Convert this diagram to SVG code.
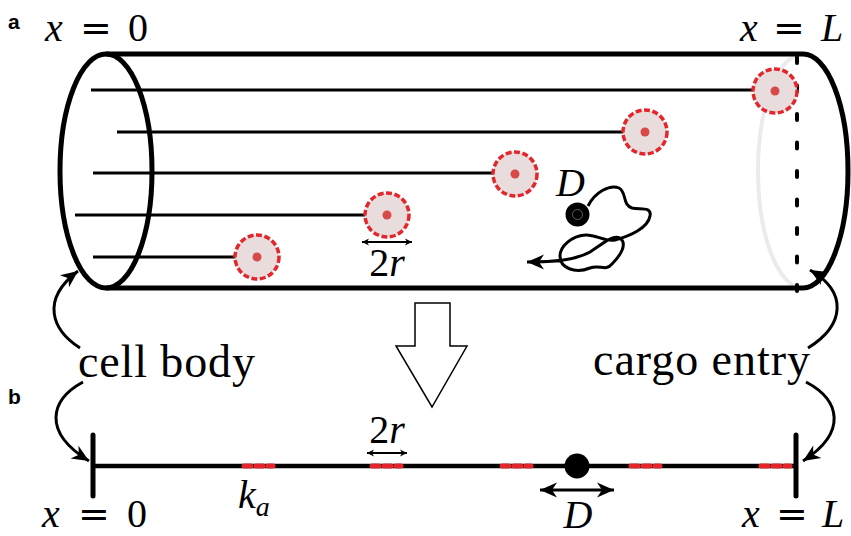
<svg xmlns="http://www.w3.org/2000/svg" width="851" height="536" viewBox="0 0 851 536">
  <style>
    .math { font-family: "Liberation Serif", "Times New Roman", Times, serif; font-size: 40px; fill: #000; }
    .it { font-style: italic; }
    .eq { font-family: "DejaVu Serif", serif; font-size: 38px; font-style: normal; }
    .word { font-family: "Liberation Serif", "Times New Roman", Times, serif; font-size: 46px; fill: #000; }
    .panel { font-family: "Liberation Sans", Arial, Helvetica, sans-serif; font-weight: bold; font-size: 21px; fill: #000; }
    .tube { fill: none; stroke: #000; stroke-width: 5; }
    .mt { stroke: #000; stroke-width: 3; }
    .cargo { fill: #e8dcdc; stroke: #e3262b; stroke-width: 3.5; stroke-dasharray: 6 2.5; }
    .core { fill: #d84a4a; }
    .redseg { stroke: #e3262b; stroke-width: 5; stroke-linecap: round; stroke-dasharray: 7 5; }
    .curve { fill: none; stroke: #000; stroke-width: 3; }
  </style>
  <defs>
    <marker id="stealth" viewBox="-18 -8 19 16" refX="0" refY="0" markerWidth="19" markerHeight="16" markerUnits="userSpaceOnUse" orient="auto-start-reverse">
      <path d="M0,0 L-17,-7.5 L-12,0 L-17,7.5 Z" fill="#000"/>
    </marker>
    <marker id="small" viewBox="-8 -4 9 8" refX="0" refY="0" markerWidth="9" markerHeight="8" markerUnits="userSpaceOnUse" orient="auto-start-reverse">
      <path d="M0,0 L-7,-3.5 L-5,0 L-7,3.5 Z" fill="#000"/>
    </marker>
  </defs>

  <!-- panel letters -->
  <text class="panel" x="8" y="29">a</text>
  <text class="panel" x="8" y="404">b</text>

  <!-- axon cylinder -->
  <g id="cylinder">
    <path d="M803,54 A45,117 0 0 0 803,288" fill="none" stroke="#ebebeb" stroke-width="4"/>
    <line x1="106" y1="54" x2="803" y2="54" class="tube"/>
    <line x1="106" y1="288" x2="803" y2="288" class="tube"/>
    <ellipse cx="106" cy="171" rx="46" ry="117" class="tube" stroke-width="4.5"/>
    <path d="M803,54 A45,117 0 0 1 803,288" class="tube"/>
    <line x1="797" y1="57" x2="797" y2="292" stroke="#000" stroke-width="4" stroke-linecap="round" stroke-dasharray="6 22.5"/>
  </g>

  <!-- microtubules with bound cargo sites -->
  <g id="microtubules">
    <line class="mt" x1="91" y1="90" x2="775" y2="90"/>
    <line class="mt" x1="117" y1="132" x2="645" y2="132"/>
    <line class="mt" x1="93" y1="173" x2="515" y2="173"/>
    <line class="mt" x1="75" y1="215" x2="387" y2="215"/>
    <line class="mt" x1="93" y1="257" x2="257" y2="257"/>
  </g>
  <g id="sites-top">
    <circle class="cargo" cx="775" cy="91" r="22"/><circle class="core" cx="775" cy="91" r="4.5"/>
    <circle class="cargo" cx="645" cy="132" r="22"/><circle class="core" cx="645" cy="132" r="4.5"/>
    <circle class="cargo" cx="515" cy="174" r="22"/><circle class="core" cx="515" cy="174" r="4.5"/>
    <circle class="cargo" cx="387" cy="215" r="22"/><circle class="core" cx="387" cy="215" r="4.5"/>
    <circle class="cargo" cx="257" cy="257" r="22"/><circle class="core" cx="257" cy="257" r="4.5"/>
  </g>

  <!-- site width -->
  <g id="width-top">
    <line x1="362" y1="242" x2="412" y2="242" stroke="#000" stroke-width="1.8" marker-start="url(#small)" marker-end="url(#small)"/>
    <text class="math" x="387" y="276" text-anchor="middle">2<tspan class="it">r</tspan></text>
  </g>

  <!-- diffusing particle -->
  <g id="particle-top">
    <path class="curve" d="M588,206 C595,192 610,184 619,188 C627,192 622,205 632,208 C640,210 652,206 650,216 C648,228 630,236 615,240 C605,242 595,234 585,235 C572,236 560,246 560,256 C560,268 575,274 590,268 C600,264 605,272 612,264 C620,256 628,244 620,238 C612,234 600,246 590,252 C575,260 555,262 527,262" marker-end="url(#stealth)"/>
    <circle cx="577.5" cy="214.5" r="12" fill="#000"/>
    <circle cx="577.5" cy="214.5" r="5" fill="none" stroke="#777" stroke-width="0.8"/>
    <text class="math it" x="556" y="196">D</text>
  </g>

  <!-- coordinate labels, top -->
  <text class="math"><tspan class="it" x="54" y="41" text-anchor="middle">x</tspan><tspan class="eq" x="96" y="41" text-anchor="middle">=</tspan><tspan x="138" y="41" text-anchor="middle">0</tspan></text>
  <text class="math"><tspan class="it" x="749" y="41" text-anchor="middle">x</tspan><tspan class="eq" x="789" y="41" text-anchor="middle">=</tspan><tspan class="it" x="832" y="41" text-anchor="middle">L</tspan></text>

  <!-- reduction arrow -->
  <polygon id="reduce" points="415,303 450,303 450,346 467,346 432,407 396,346 415,346" fill="#fff" stroke="#000" stroke-width="1.5" stroke-linejoin="miter"/>

  <!-- boundary labels -->
  <text id="cell-body" class="word" x="78" y="377" textLength="177">cell body</text>
  <text id="cargo-entry" class="word" x="593" y="375" textLength="217">cargo entry</text>

  <g id="connectors">
    <path class="curve" d="M80,348 C52,330 40,300 78,271" marker-end="url(#stealth)"/>
    <path class="curve" d="M83,382 C50,400 42,432 89,461" marker-end="url(#stealth)"/>
    <path class="curve" d="M808,348 C845,325 848,292 810,270" marker-end="url(#stealth)"/>
    <path class="curve" d="M806,382 C840,400 848,432 803,461" marker-end="url(#stealth)"/>
  </g>

  <!-- one-dimensional model -->
  <g id="line-model">
    <line x1="93" y1="466" x2="797" y2="466" stroke="#000" stroke-width="4.5"/>
    <line x1="93" y1="435" x2="93" y2="496" stroke="#000" stroke-width="5" stroke-linecap="round"/>
    <line x1="796" y1="435" x2="796" y2="496" stroke="#000" stroke-width="5" stroke-linecap="round"/>
  </g>
  <g id="sites-bottom">
    <line class="redseg" x1="244" y1="466" x2="273" y2="466"/>
    <line class="redseg" x1="372" y1="466" x2="401" y2="466"/>
    <line class="redseg" x1="502" y1="466" x2="531" y2="466"/>
    <line class="redseg" x1="631" y1="466" x2="660" y2="466"/>
    <line class="redseg" x1="761" y1="466" x2="790" y2="466"/>
  </g>
  <g id="width-bottom">
    <line x1="367" y1="453" x2="407" y2="453" stroke="#000" stroke-width="1.8" marker-start="url(#small)" marker-end="url(#small)"/>
    <text class="math" x="387" y="443" text-anchor="middle">2<tspan class="it">r</tspan></text>
  </g>
  <g id="particle-bottom">
    <circle cx="577" cy="466" r="12.5" fill="#000"/>
    <line x1="540" y1="490" x2="614" y2="490" stroke="#000" stroke-width="3" marker-start="url(#stealth)" marker-end="url(#stealth)"/>
    <text class="math it" x="578" y="528" text-anchor="middle">D</text>
  </g>
  <text class="math it" x="238" y="508">k<tspan font-size="28" dy="8">a</tspan></text>

  <!-- coordinate labels, bottom -->
  <text class="math"><tspan class="it" x="51" y="527" text-anchor="middle">x</tspan><tspan class="eq" x="94" y="527" text-anchor="middle">=</tspan><tspan x="137" y="527" text-anchor="middle">0</tspan></text>
  <text class="math"><tspan class="it" x="751" y="527" text-anchor="middle">x</tspan><tspan class="eq" x="792" y="527" text-anchor="middle">=</tspan><tspan class="it" x="833" y="527" text-anchor="middle">L</tspan></text>
</svg>
